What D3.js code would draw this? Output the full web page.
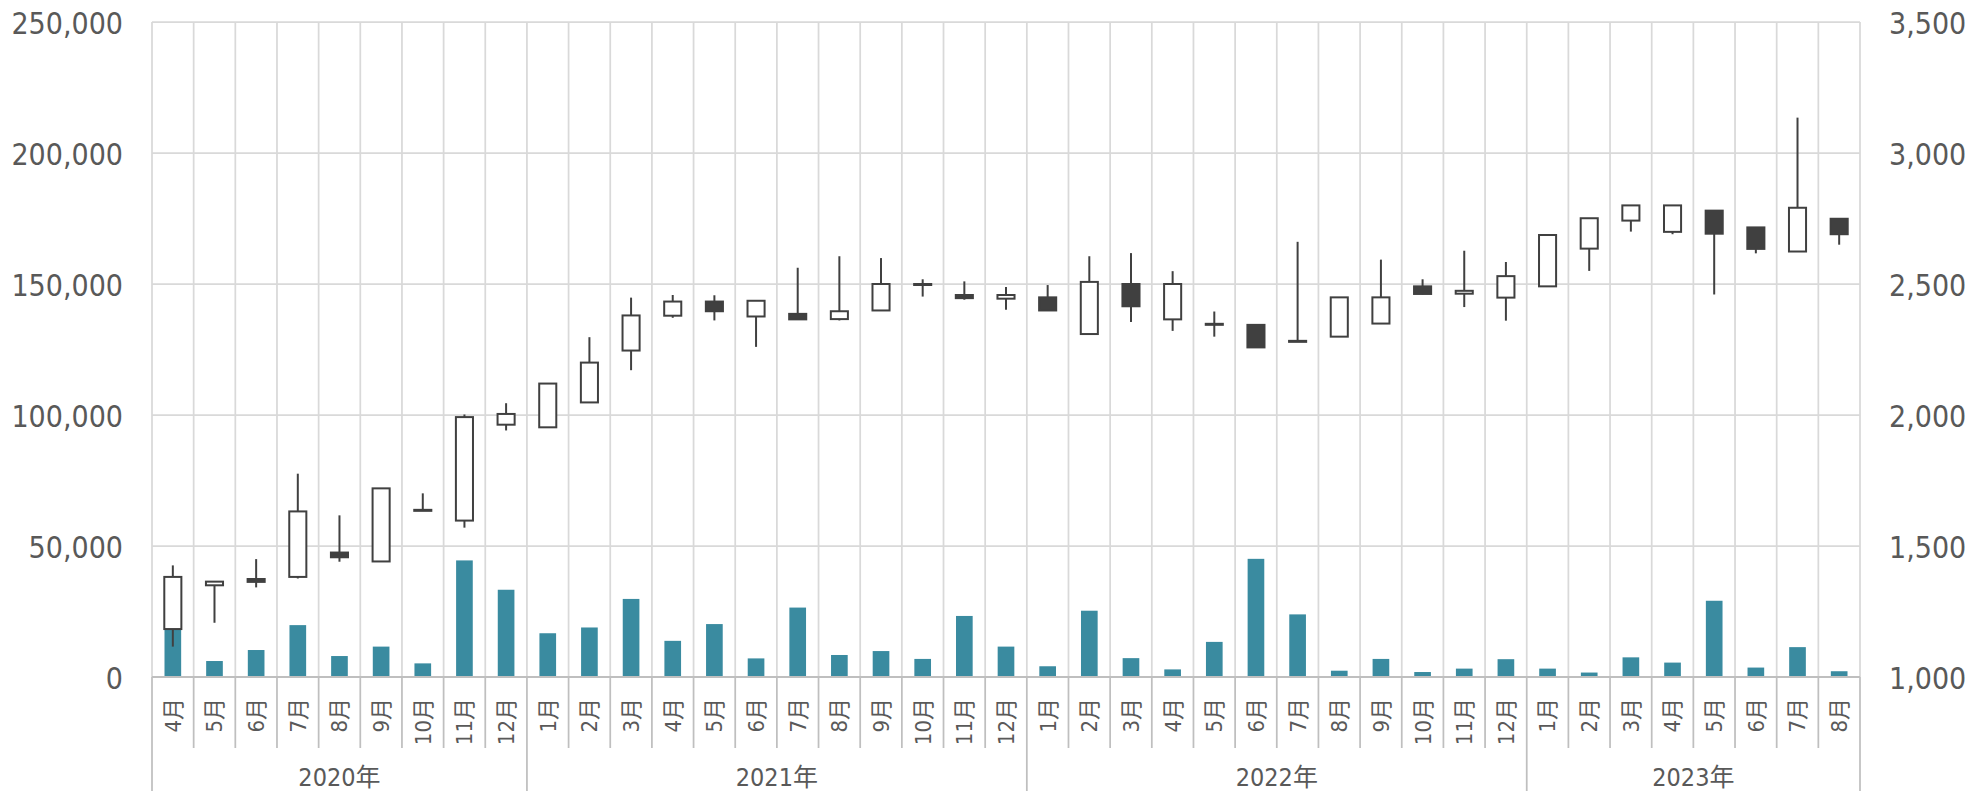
<!DOCTYPE html>
<html>
<head>
<meta charset="utf-8">
<script src="https://cdn.jsdelivr.net/npm/d3@7"></script>
<style>
  body { margin: 0; background: #fff; }
  text { font-family: 'DejaVu Sans Condensed', 'DejaVu Sans', 'Noto Sans CJK JP', sans-serif; fill: #595959; }
</style>
</head>
<body>
<div id="container"></div>
<script>
// categories
const periods = ["2020-4","2020-5","2020-6","2020-7","2020-8","2020-9","2020-10","2020-11","2020-12",
  "2021-1","2021-2","2021-3","2021-4","2021-5","2021-6","2021-7","2021-8","2021-9","2021-10","2021-11","2021-12",
  "2022-1","2022-2","2022-3","2022-4","2022-5","2022-6","2022-7","2022-8","2022-9","2022-10","2022-11","2022-12",
  "2023-1","2023-2","2023-3","2023-4","2023-5","2023-6","2023-7","2023-8"];
const monthLabels = ["4月","5月","6月","7月","8月","9月","10月","11月","12月",
  "1月","2月","3月","4月","5月","6月","7月","8月","9月","10月","11月","12月",
  "1月","2月","3月","4月","5月","6月","7月","8月","9月","10月","11月","12月",
  "1月","2月","3月","4月","5月","6月","7月","8月"];
const yearLabels = ["2020年","2021年","2022年","2023年"];
const yearMonths = [9, 12, 12, 8];

// series values
const openPrice  = [1183,1350,1374,1382,1475,1441,1638,1597,1963, 1953,2048,2246,2379,2433,2376,2386,2366,2399,2498,2458,2444,
  2449,2309,2500,2365,2346,2344,2283,2299,2349,2491,2463,2448, 2491,2635,2742,2699,2780,2716,2624,2749];
const highPrice  = [1426,1364,1450,1776,1617,1720,1701,2002,2045, 2120,2297,2448,2458,2457,2436,2562,2606,2599,2518,2510,2489,
  2496,2606,2618,2549,2395,2347,2661,2449,2593,2518,2627,2584, 2687,2751,2800,2800,2780,2716,3135,2749];
const lowPrice   = [1116,1207,1342,1376,1440,1441,1636,1570,1941, 1953,2048,2171,2371,2361,2260,2365,2361,2399,2452,2440,2402,
  2399,2309,2355,2321,2299,2258,2281,2299,2349,2460,2412,2360, 2491,2550,2700,2690,2460,2617,2624,2650];
const closePrice = [1382,1364,1363,1632,1457,1720,1636,1992,2004, 2120,2200,2380,2433,2396,2436,2365,2396,2500,2500,2446,2458,
  2399,2508,2415,2500,2348,2258,2281,2449,2449,2462,2474,2530, 2687,2751,2800,2800,2692,2634,2791,2690];
const volume     = [18500,6100,10300,19800,8000,11600,5200,44500,33300, 16700,18900,29800,13800,20200,7100,26500,8400,9900,6900,23300,11600,
  4100,25300,7200,2900,13400,45100,23900,2400,6900,1900,3200,6800, 3200,1700,7500,5500,29100,3600,11400,2200];

// tick values
const volumeTicks = [0, 50000, 100000, 150000, 200000, 250000];
const priceTicks = [1000, 1500, 2000, 2500, 3000, 3500];

const w = 1973, h = 791;
const plotLeft = 152, plotRight = 1860, plotTop = 22, plotBottom = 677;
const grid = "#d9d9d9", axisGray = "#bfbfbf", ink = "#404040";

const svg = d3.select("#container").append("svg")
  .attr("width", w).attr("height", h);

const x = d3.scaleBand().domain(periods).range([plotLeft, plotRight]).padding(0);
const yVol = d3.scaleLinear().domain([0, 250000]).range([plotBottom, plotTop]);
const yPrice = d3.scaleLinear().domain([1000, 3500]).range([plotBottom, plotTop]);
const bw = x.bandwidth();

// horizontal gridlines
svg.append("g").selectAll("line").data(volumeTicks.slice(1)).enter().append("line")
  .attr("x1", plotLeft).attr("x2", plotRight)
  .attr("y1", d => yVol(d)).attr("y2", d => yVol(d))
  .attr("stroke", grid).attr("stroke-width", 1.75);

// vertical gridlines (category boundaries)
const bounds = periods.map(p => x(p)).concat([plotRight]);
svg.append("g").selectAll("line").data(bounds).enter().append("line")
  .attr("x1", d => d).attr("x2", d => d)
  .attr("y1", plotTop).attr("y2", plotBottom)
  .attr("stroke", grid).attr("stroke-width", 1.75);

// volume bars
svg.append("g").selectAll("rect").data(periods).enter().append("rect")
  .attr("x", d => x(d) + bw * 0.3)
  .attr("width", bw * 0.4)
  .attr("y", (d, i) => yVol(volume[i]))
  .attr("height", (d, i) => plotBottom - yVol(volume[i]))
  .attr("fill", "#3a8ba0");

// candlesticks
const candles = svg.append("g").selectAll("g").data(periods).enter().append("g");
candles.append("line")
  .attr("x1", d => x(d) + bw / 2).attr("x2", d => x(d) + bw / 2)
  .attr("y1", (d, i) => yPrice(highPrice[i]))
  .attr("y2", (d, i) => yPrice(lowPrice[i]))
  .attr("stroke", ink).attr("stroke-width", 2);
candles.append("rect")
  .attr("x", d => x(d) + bw * 0.295)
  .attr("width", bw * 0.41)
  .attr("y", (d, i) => yPrice(Math.max(openPrice[i], closePrice[i])))
  .attr("height", (d, i) => Math.max(1, Math.abs(yPrice(openPrice[i]) - yPrice(closePrice[i]))))
  .attr("fill", (d, i) => closePrice[i] >= openPrice[i] ? "#ffffff" : ink)
  .attr("stroke", ink).attr("stroke-width", 2);

// bottom axis line
svg.append("line")
  .attr("x1", plotLeft).attr("x2", plotRight).attr("y1", plotBottom).attr("y2", plotBottom)
  .attr("stroke", axisGray).attr("stroke-width", 2);

// month tick marks and year separators
let yearStarts = [0];
yearMonths.forEach((n, i) => yearStarts.push(yearStarts[i] + n));
svg.append("g").selectAll("line").data(bounds).enter().append("line")
  .attr("x1", d => d).attr("x2", d => d)
  .attr("y1", plotBottom)
  .attr("y2", (d, i) => yearStarts.includes(i) ? h : 748)
  .attr("stroke", axisGray).attr("stroke-width", 1.75);

// month labels
const xAxis = d3.axisBottom(x).tickSize(0).tickFormat((d, i) => monthLabels[i]);
const gx = svg.append("g").attr("transform", "translate(0," + plotBottom + ")").call(xAxis);
gx.select(".domain").remove();
gx.selectAll("text")
  .attr("transform", "translate(0,21) rotate(-90)")
  .attr("x", 0).attr("y", 0).attr("dy", "0.36em")
  .attr("text-anchor", "end")
  .attr("fill", "#595959")
  .style("font-size", "22px");

// year labels
svg.append("g").selectAll("text").data(yearLabels).enter().append("text")
  .attr("x", (d, i) => (x(periods[yearStarts[i]]) + (yearStarts[i + 1] < periods.length ? x(periods[yearStarts[i + 1]]) : plotRight)) / 2)
  .attr("y", 786)
  .attr("text-anchor", "middle")
  .style("font-size", "25px")
  .text(d => d);

// left axis (volume)
const gl = svg.append("g").attr("transform", "translate(" + plotLeft + ",0)")
  .call(d3.axisLeft(yVol).tickValues(volumeTicks).tickSize(0).tickPadding(29).tickFormat(d3.format(",")));
gl.select(".domain").remove();
gl.selectAll("text").attr("fill", "#595959").attr("dy", "0.37em").style("font-size", "30px");

// right axis (price)
const gr = svg.append("g").attr("transform", "translate(" + plotRight + ",0)")
  .call(d3.axisRight(yPrice).tickValues(priceTicks).tickSize(0).tickPadding(29).tickFormat(d3.format(",")));
gr.select(".domain").remove();
gr.selectAll("text").attr("fill", "#595959").attr("dy", "0.37em").style("font-size", "30px");
</script>
</body>
</html>
